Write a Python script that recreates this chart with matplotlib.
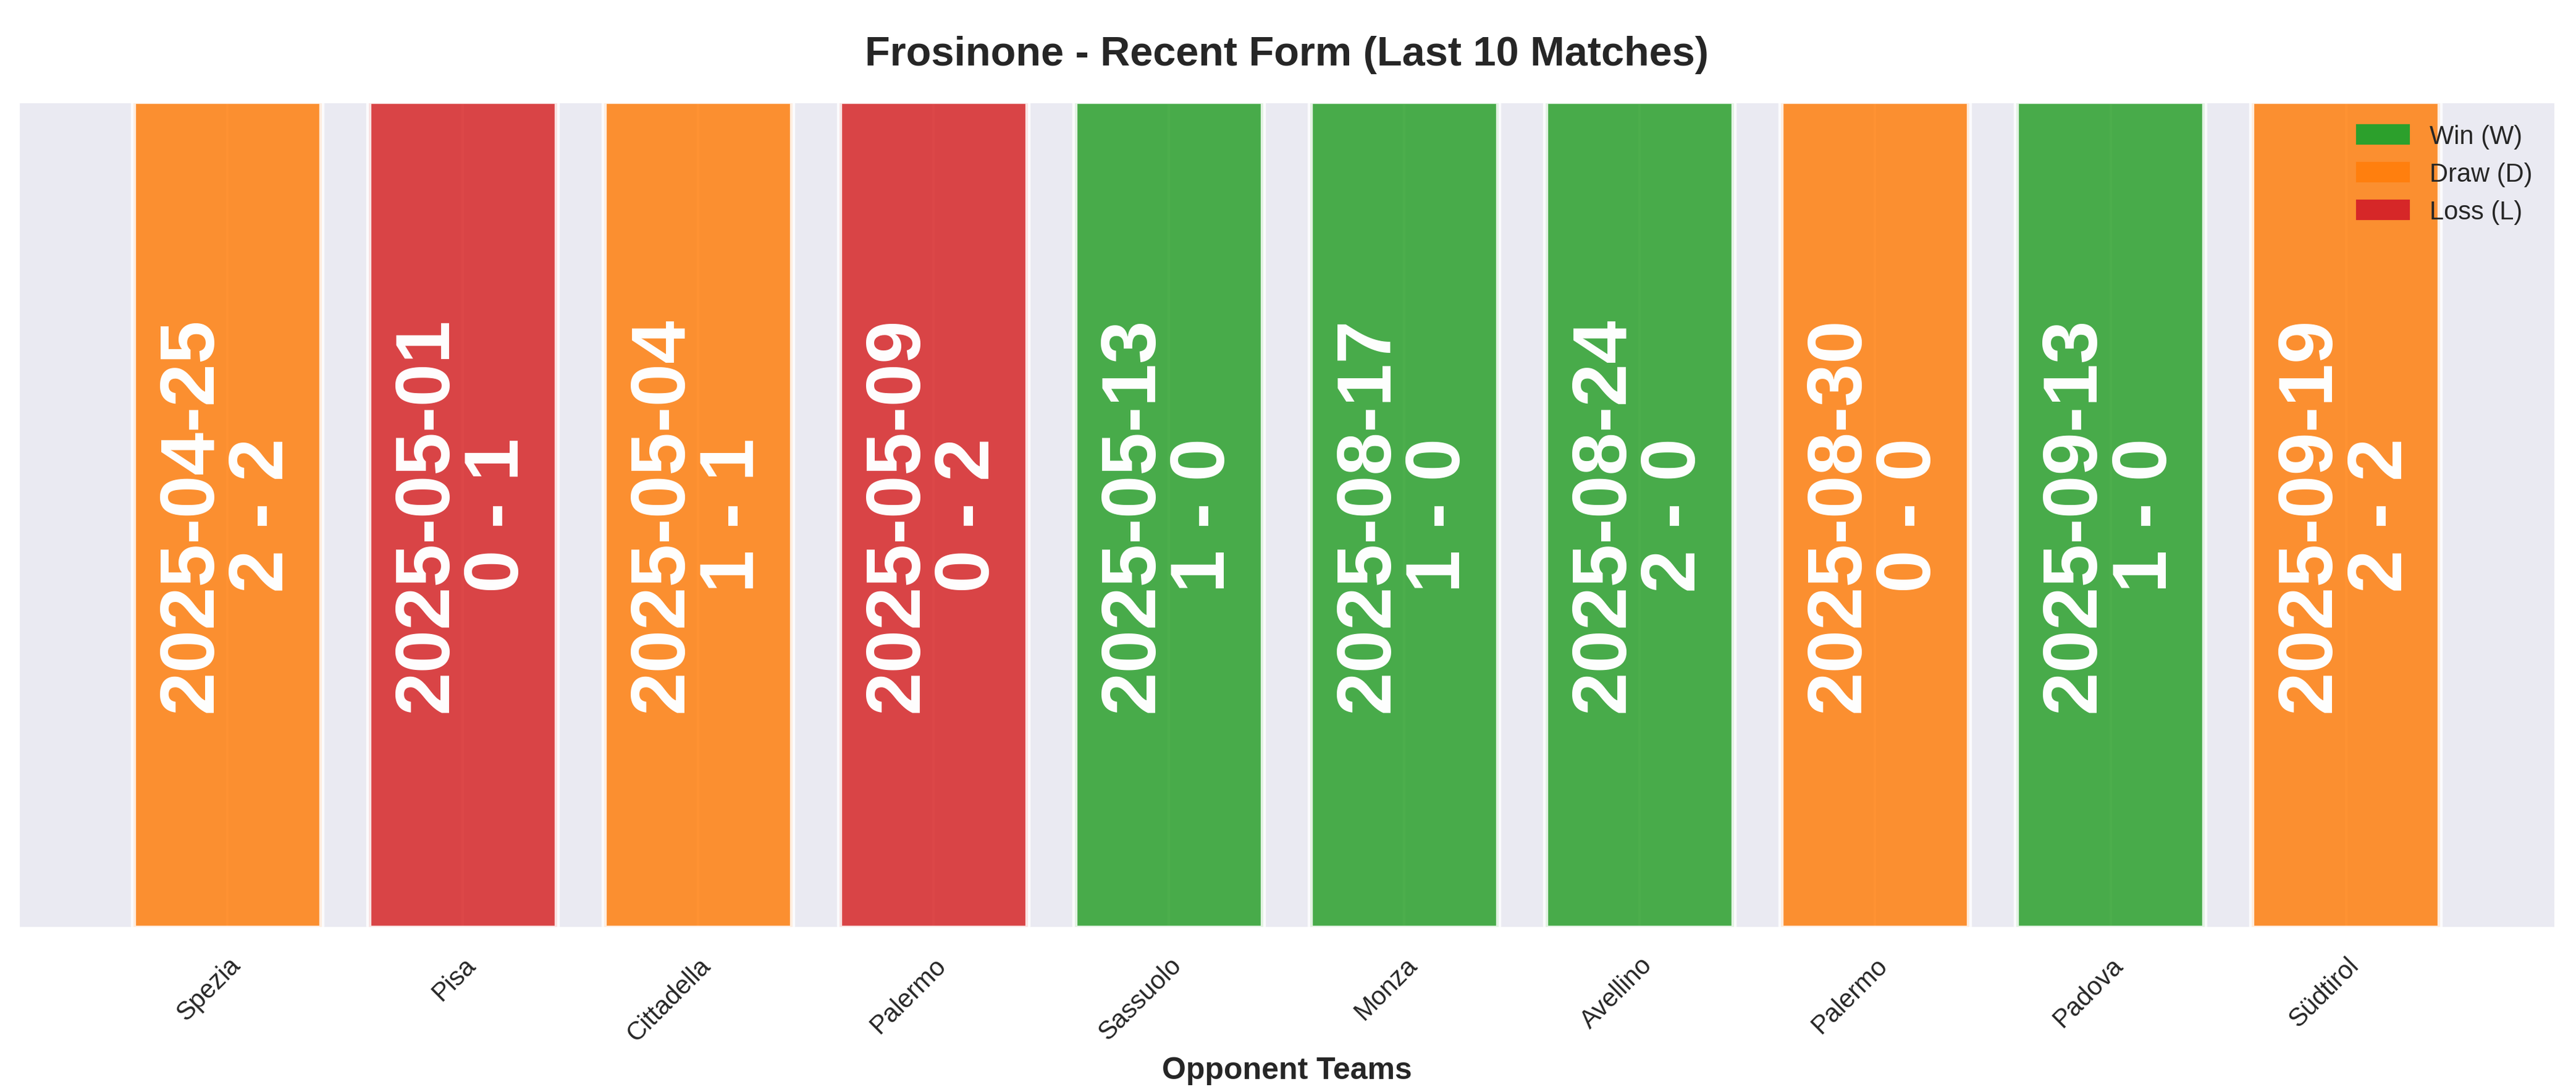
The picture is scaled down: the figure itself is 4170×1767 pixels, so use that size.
import matplotlib
matplotlib.use("Agg")
import matplotlib.pyplot as plt
import seaborn as sns
from matplotlib.patches import Patch

sns.set_theme(style="darkgrid")
plt.rcParams['font.family'] = ['Liberation Sans', 'DejaVu Sans']

opponents = ["Spezia", "Pisa", "Cittadella", "Palermo", "Sassuolo", "Monza",
             "Avellino", "Palermo", "Padova", "Südtirol"]
dates = ["2025-04-25", "2025-05-01", "2025-05-04", "2025-05-09", "2025-05-13",
         "2025-08-17", "2025-08-24", "2025-08-30", "2025-09-13", "2025-09-19"]
scores = ["2 - 2", "0 - 1", "1 - 1", "0 - 2", "1 - 0", "1 - 0", "2 - 0",
          "0 - 0", "1 - 0", "2 - 2"]
results = ["D", "L", "D", "L", "W", "W", "W", "D", "W", "D"]
values = [1] * 10

cmap = {"W": "#2ca02c", "D": "#ff7f0e", "L": "#d62728"}

fig, ax = plt.subplots(figsize=(13.9, 5.893), dpi=300)
x = list(range(len(opponents)))
ax.bar(x, values, width=0.8, color=[cmap[r] for r in results], alpha=0.85,
       edgecolor="white", linewidth=2)
for i in x:
    ax.text(i, 0.5, f"{dates[i]}\n{scores[i]}", rotation=90, ha="center",
            va="center", color="white", fontsize=30, fontweight="bold",
            linespacing=1.0)
ax.set_ylim(0, 1)
ax.set_yticks([])
ax.set_xticks(x)
ax.set_xticklabels(opponents, rotation=45, ha="right", rotation_mode="anchor",
                   fontsize=10)
ax.set_xlabel("Opponent Teams", fontsize=12, fontweight="bold")
ax.set_title("Frosinone - Recent Form (Last 10 Matches)", fontsize=16,
             fontweight="bold", pad=14)
handles = [Patch(color=cmap["W"], label="Win (W)"),
           Patch(color=cmap["D"], label="Draw (D)"),
           Patch(color=cmap["L"], label="Loss (L)")]
ax.legend(handles=handles, loc="upper right", frameon=False, fontsize=10)
fig.subplots_adjust(left=0.007, right=0.992, top=0.907, bottom=0.15)
fig.savefig("out.png", dpi=300)
